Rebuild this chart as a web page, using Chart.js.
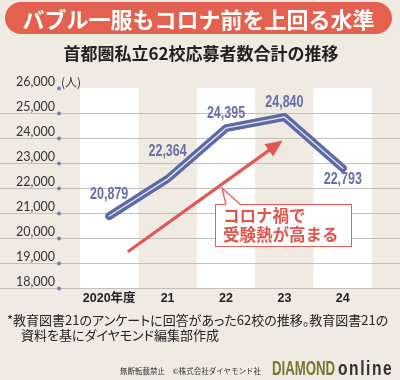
<!DOCTYPE html>
<html><head><meta charset="utf-8">
<script src="https://cdn.jsdelivr.net/npm/chart.js@4/dist/chart.umd.min.js"></script>
<style>
html,body{margin:0;padding:0;background:#efebe2;}
#wrap{position:relative;width:400px;height:380px;overflow:hidden;font-family:"Noto Sans CJK JP",sans-serif;}
canvas{position:absolute;left:0;top:0;}
.title{position:absolute;left:5px;top:2px;width:387px;height:32px;border-radius:16px;background:#e4604f;color:#fff;font-weight:700;font-size:22px;line-height:32px;text-align:center;white-space:nowrap;}
.sub{position:absolute;left:0;top:42px;width:402px;text-align:center;font-size:17px;font-weight:700;color:#222;line-height:22px;white-space:nowrap;}
.unit{position:absolute;left:61px;top:75px;font-size:12px;color:#333;line-height:14px;}
.note{position:absolute;left:7px;top:312px;font-size:13px;line-height:15px;color:#222;white-space:nowrap;font-feature-settings:"palt";}
.note2{position:absolute;left:21px;top:327px;font-size:13px;line-height:15px;color:#222;white-space:nowrap;font-feature-settings:"palt";}
.copy{position:absolute;left:120px;top:366px;font-size:7.5px;line-height:9px;color:#333;white-space:nowrap;}
.bd{position:absolute;top:357px;height:22px;white-space:nowrap;font-family:"Liberation Sans",Arial,sans-serif;font-weight:700;font-size:20px;line-height:22px;transform-origin:left center;}
.bd1{left:272px;color:#7a7530;transform:scaleX(0.66);}
.bd2{left:338px;color:#333;letter-spacing:2px;transform:scaleX(0.78);}
.callout{position:absolute;left:215px;top:204px;width:128px;height:40px;border:1.5px solid #e2615a;background:#fff;color:#e0564f;font-weight:700;font-size:16.5px;line-height:19px;padding:1px 0 0 7px;box-sizing:content-box;white-space:nowrap;}
.tail{position:absolute;left:0;top:0;}
</style></head>
<body><div id="wrap">
<canvas id="c" width="400" height="380"></canvas>
<div class="title">バブル一服もコロナ前を上回る水準</div>
<div class="sub">首都圏私立62校応募者数合計の推移</div>
<div class="unit">(人)</div>
<div class="callout">コロナ禍で<br>受験熱が高まる</div>
<svg class="tail" width="400" height="380"><polygon points="226,205.5 222,188 241,205.5" fill="#fff"/><polyline points="226,205 222,188 241,205" fill="none" stroke="#e2615a" stroke-width="1.3"/></svg>
<div class="note">*教育図書21のアンケートに回答があった62校の推移。教育図書21の</div>
<div class="note2">資料を基にダイヤモンド編集部作成</div>
<div class="copy">無断転載禁止　©株式会社ダイヤモンド社</div>
<div class="bd bd1">DIAMOND</div>
<div class="bd bd2">online</div>
</div>
<script>
const categories = ['2020年度', '21', '22', '23', '24'];
const applicants = [20879, 22364, 24395, 24840, 22793];
const yTicks = [18000, 19000, 20000, 21000, 22000, 23000, 24000, 25000, 26000];
const labelOffsets = [[0, -21], [0, -27], [0, -15], [0, -14], [0, 11]];
const arrowFrom = [0.32, 19450];
const arrowTo = [2.97, 23900];

const fmt = v => v.toLocaleString('en-US');

const decor = {
  id: 'decor',
  beforeDatasetsDraw(chart) {
    const {ctx, chartArea: a, scales: {x, y}} = chart;
    ctx.save();
    const w = x.getPixelForValue(1) - x.getPixelForValue(0);
    ctx.fillStyle = '#ffffff';
    categories.forEach((c, i) => {
      if (i % 2 === 0) {
        const cx = x.getPixelForValue(i);
        ctx.fillRect(cx - w / 2, a.top, w, a.bottom - a.top + 1);
      }
    });
    ctx.strokeStyle = '#c4c0b8';
    ctx.lineWidth = 1;
    yTicks.forEach(v => {
      if (v === yTicks[yTicks.length - 1]) return;
      const py = Math.round(y.getPixelForValue(v)) + 0.5;
      ctx.beginPath(); ctx.moveTo(0, py); ctx.lineTo(chart.width, py); ctx.stroke();
    });
    ctx.fillStyle = '#7b80aa';
    yTicks.forEach(v => {
      const py = y.getPixelForValue(v) + 0.5;
      ctx.beginPath(); ctx.arc(a.left - 21, py, 2, 0, Math.PI * 2); ctx.fill();
    });
    // arrow
    const x1 = x.getPixelForValue(arrowFrom[0]), y1 = y.getPixelForValue(arrowFrom[1]);
    const x2 = x.getPixelForValue(arrowTo[0]), y2 = y.getPixelForValue(arrowTo[1]);
    const ang = Math.atan2(y2 - y1, x2 - x1);
    const hl = 17, hw = 7.5;
    const bx = x2 - hl * Math.cos(ang), by = y2 - hl * Math.sin(ang);
    ctx.strokeStyle = '#e05a55';
    ctx.fillStyle = '#e05a55';
    ctx.lineWidth = 3.2;
    ctx.beginPath(); ctx.moveTo(x1, y1); ctx.lineTo(bx + Math.cos(ang), by + Math.sin(ang)); ctx.stroke();
    ctx.beginPath();
    ctx.moveTo(x2, y2);
    ctx.lineTo(bx + hw * Math.sin(ang), by - hw * Math.cos(ang));
    ctx.lineTo(bx - hw * Math.sin(ang), by + hw * Math.cos(ang));
    ctx.closePath(); ctx.fill();
    ctx.restore();
  },
  afterDatasetsDraw(chart) {
    const {ctx} = chart;
    const meta = chart.getDatasetMeta(0);
    ctx.save();
    ctx.font = 'bold 16px "Liberation Sans",Arial,sans-serif';
    ctx.fillStyle = '#6670a6';
    ctx.textAlign = 'center';
    ctx.textBaseline = 'middle';
    const sx = 0.78;
    meta.data.forEach((pt, i) => {
      const tx = pt.x + labelOffsets[i][0], ty = pt.y + labelOffsets[i][1];
      ctx.save();
      ctx.translate(tx, ty);
      ctx.scale(sx, 1);
      ctx.fillText(fmt(applicants[i]), 0, 0);
      ctx.restore();
    });
    ctx.restore();
  }
};

new Chart(document.getElementById('c'), {
  type: 'line',
  data: {
    labels: categories,
    datasets: [
      {data: applicants, borderColor: '#5d68a4', borderWidth: 8, pointRadius: 0, tension: 0, borderCapStyle: 'round', borderJoinStyle: 'miter', fill: false, order: 2},
      {data: applicants, borderColor: '#dfe3f5', borderWidth: 1.4, pointRadius: 0, tension: 0, borderCapStyle: 'round', fill: false, order: 1}
    ]
  },
  options: {
    responsive: false,
    animation: false,
    devicePixelRatio: 1,
    layout: {padding: {left: 0, right: 28, top: 88, bottom: 68}},
    plugins: {legend: {display: false}, tooltip: {enabled: false}, title: {display: false}},
    scales: {
      x: {
        type: 'category', offset: true,
        grid: {display: false, drawTicks: false}, border: {display: false},
        ticks: {color: '#222', padding: 3, maxRotation: 0, minRotation: 0, autoSkip: false,
          font: {family: '"Liberation Sans","Noto Sans CJK JP",sans-serif', size: 12.5, weight: 'bold'}},
        afterFit(s) { s.height = 24; }
      },
      y: {
        min: yTicks[0], max: yTicks[yTicks.length - 1],
        grid: {display: false, drawTicks: false}, border: {display: false},
        ticks: {stepSize: 1000, color: '#333', padding: 25, labelOffset: -6, font: {family: 'Lato, sans-serif', size: 12.5}, callback: v => fmt(v)},
        afterFit(s) { s.width = 80; }
      }
    }
  },
  plugins: [decor]
});
</script>
</body></html>
